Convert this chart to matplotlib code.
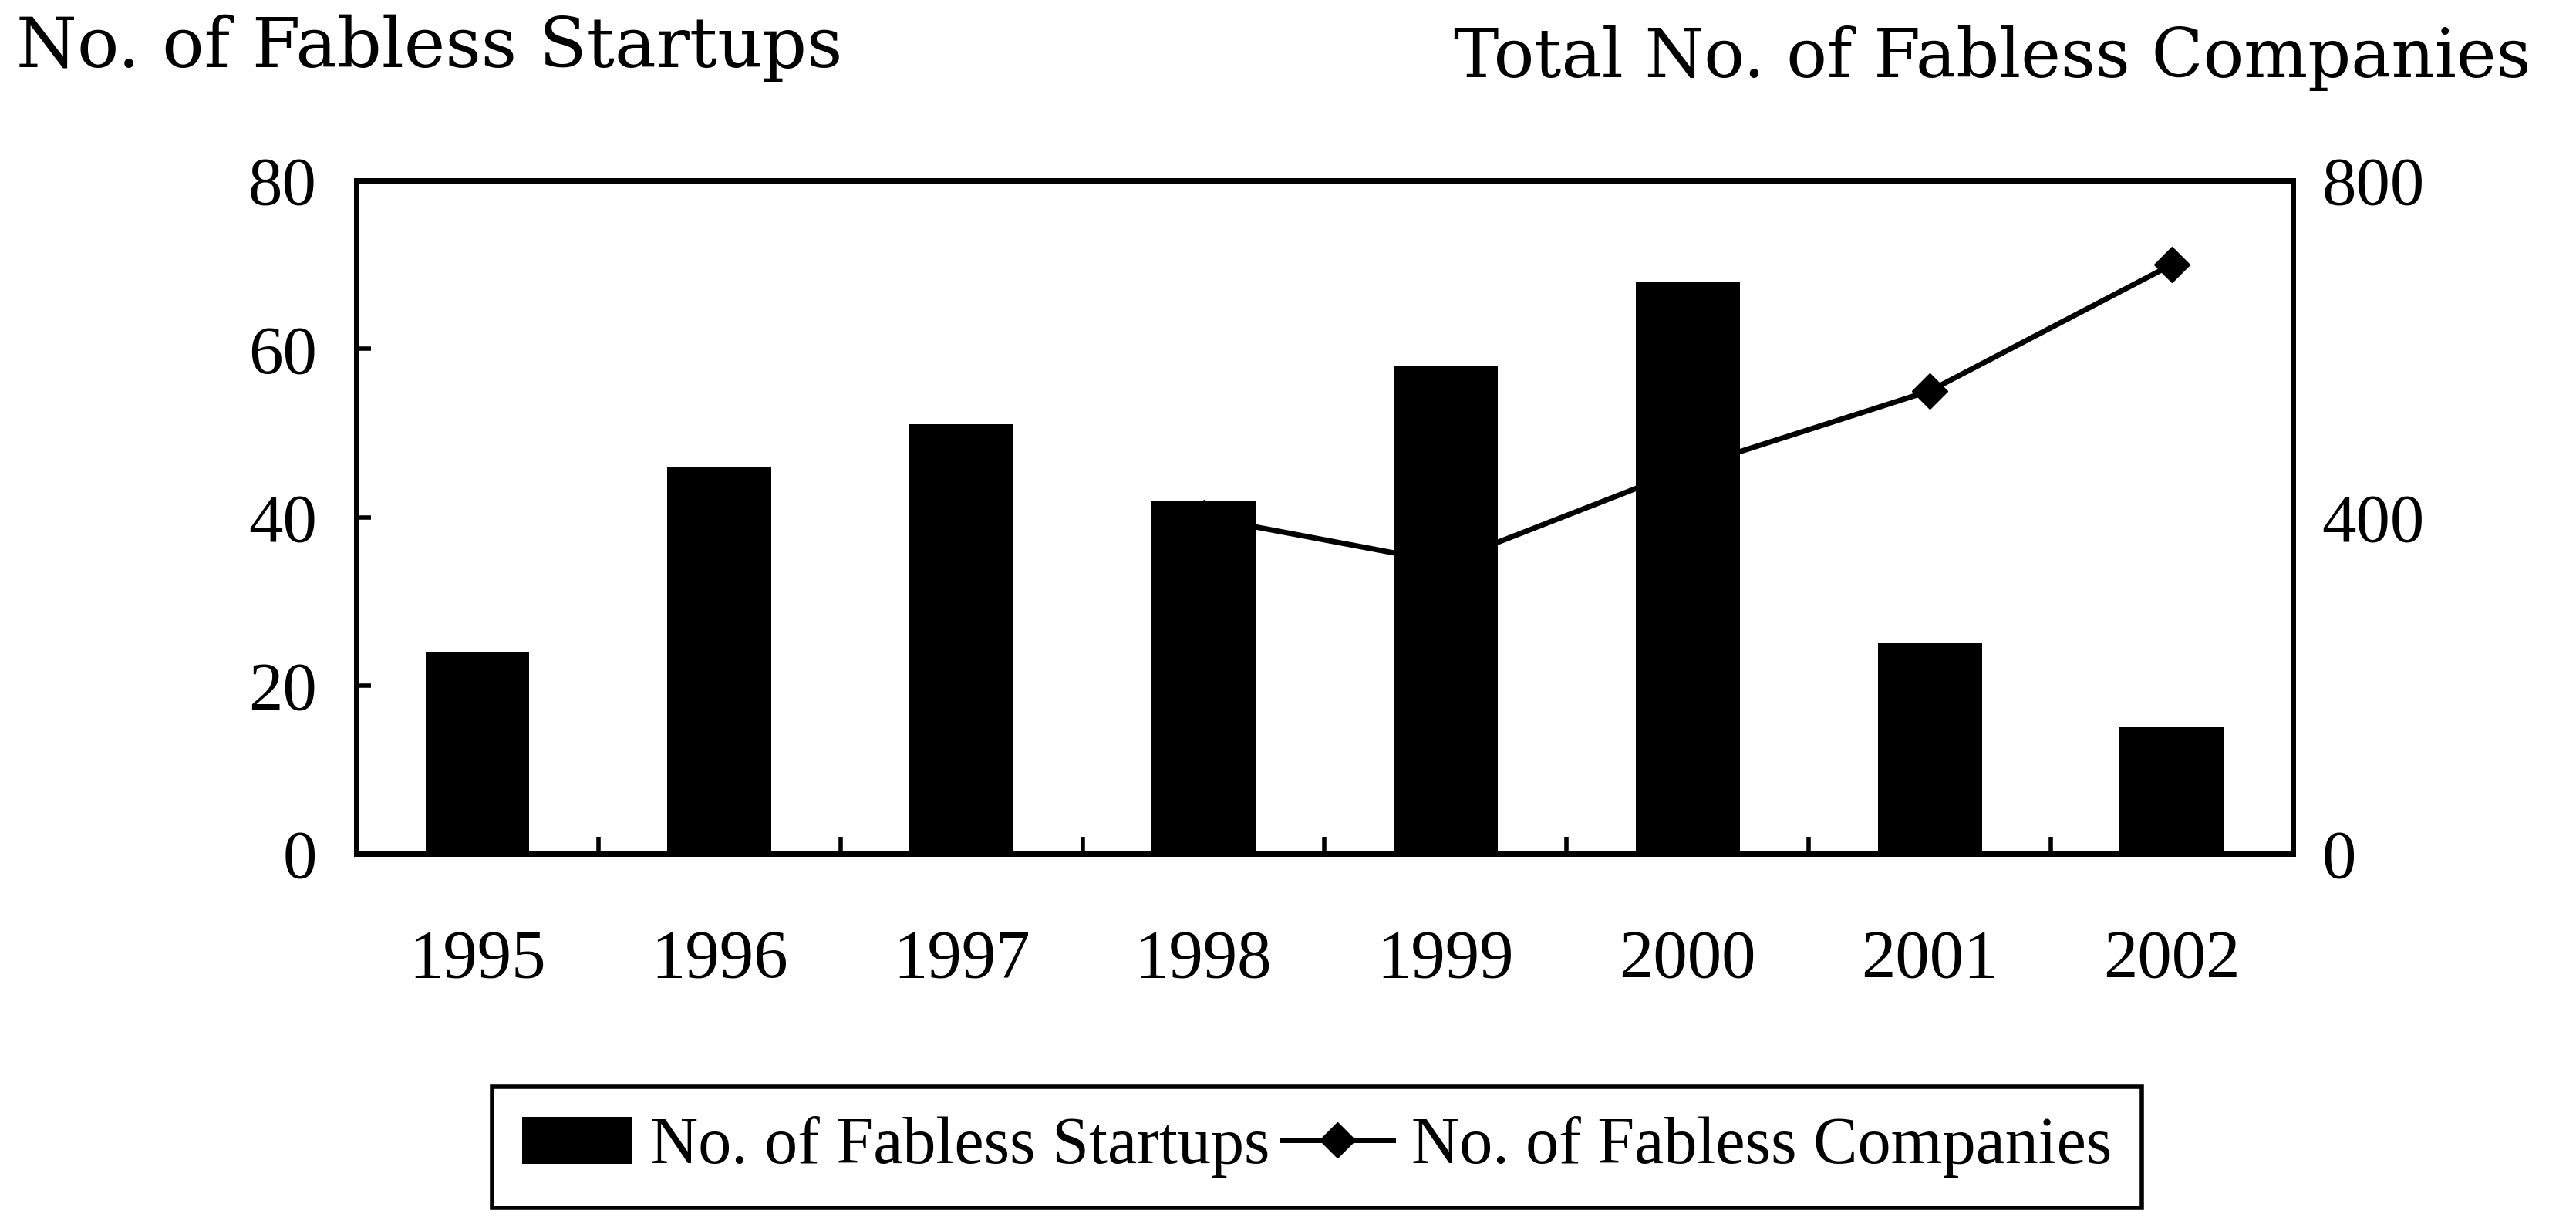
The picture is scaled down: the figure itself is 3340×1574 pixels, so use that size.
import numpy as np
import matplotlib
matplotlib.use("Agg")
import matplotlib.pyplot as plt

# data
years = ["1995", "1996", "1997", "1998", "1999", "2000", "2001", "2002"]
startups = [24, 46, 51, 42, 58, 68, 25, 15]
companies = [np.nan, np.nan, np.nan, 400, 346, 458, 550, 700]

left_ticks = [0, 20, 40, 60, 80]
right_ticks = [0, 400, 800]

TICK_FONT = "Liberation Serif"
TITLE_FONT = "DejaVu Serif"

fig = plt.figure(figsize=(33.41, 15.74), dpi=100)
fig.patch.set_facecolor("white")

ax1 = fig.add_axes([0.1383, 0.2967, 0.7515, 0.5546])
ax2 = ax1.twinx()
# bars have to hide the line, so the bar axes goes on top
ax1.set_zorder(ax2.get_zorder() + 1)
ax1.patch.set_visible(False)

x = np.arange(len(years))
bars = ax1.bar(x, startups, width=0.43, color="black",
               label="No. of Fabless Startups")
line, = ax2.plot(x, companies, color="black", lw=5, marker="D", ms=23,
                 label="No. of Fabless Companies")

ax1.set_xlim(-0.5, 7.5)
ax1.set_ylim(0, 80)
ax2.set_ylim(0, 800)

ax1.set_yticks(left_ticks)
ax2.set_yticks(right_ticks)
ax1.set_xticks(x)
ax1.set_xticklabels(years)
ax1.set_xticks(x[:-1] + 0.5, minor=True)

ax1.tick_params(axis="x", which="major", length=0, pad=70,
                labelsize=64)
ax1.tick_params(axis="x", which="minor", direction="in", length=16, width=4)
ax1.tick_params(axis="y", direction="in", length=14, width=4, pad=37,
                labelsize=64)
ax2.tick_params(axis="y", direction="in", length=0, pad=27, labelsize=64)

for lab in ax1.get_xticklabels() + ax1.get_yticklabels() + ax2.get_yticklabels():
    lab.set_fontfamily(TICK_FONT)

for ax in (ax1, ax2):
    for sp in ax.spines.values():
        sp.set_linewidth(5)
        sp.set_color("black")

fig.text(21 / 3341, 1 - 87 / 1574, "No. of Fabless Startups",
         ha="left", va="baseline", fontsize=65, family=TITLE_FONT)
fig.text(3282 / 3341, 1 - 100 / 1574, "Total No. of Fabless Companies",
         ha="right", va="baseline", fontsize=63, family=TITLE_FONT)

leg = fig.legend([bars, line], [bars.get_label(), line.get_label()],
                 loc="center", bbox_to_anchor=(0.511, 0.055), ncol=2,
                 prop={"family": TICK_FONT, "size": 62},
                 handlelength=1.65, handleheight=0.72, handletextpad=0.28,
                 columnspacing=0.2, borderpad=0.45, fancybox=False,
                 frameon=True, edgecolor="black", framealpha=1)
leg.get_frame().set_linewidth(4)

fig.savefig("out.png", dpi=100, facecolor="white")
